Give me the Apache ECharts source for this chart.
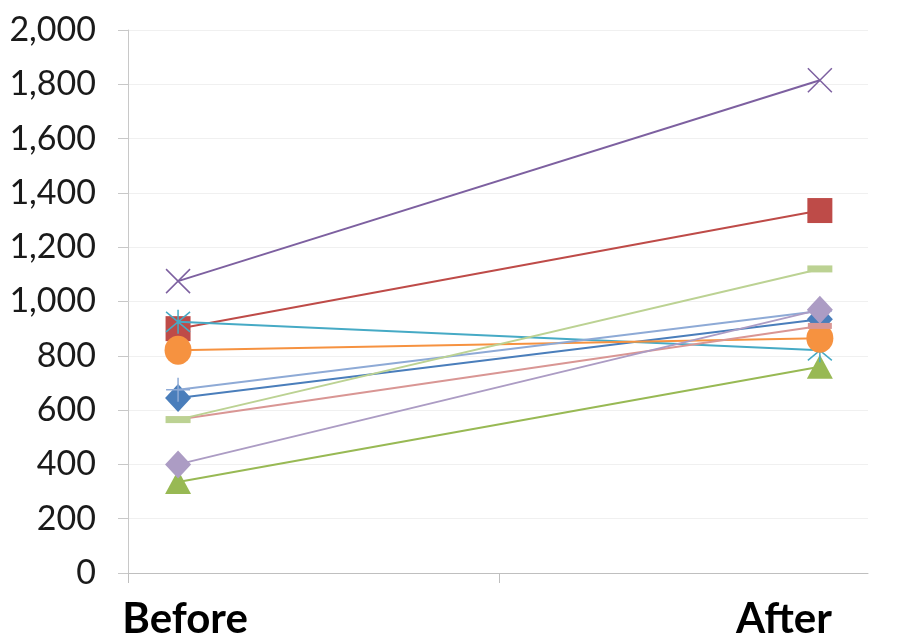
<!DOCTYPE html>
<html>
<head>
<meta charset="utf-8">
<script src="https://cdn.jsdelivr.net/npm/echarts@6/dist/echarts.min.js"></script>
<style>
  html, body { margin: 0; padding: 0; background: #ffffff; }
  #chart { width: 910px; height: 640px; }
</style>
</head>
<body>
<div id="chart"></div>
<script>
// Two time points, one line per subject
const categories = ['Before', 'After'];

const seriesNames = ['S1', 'S2', 'S3', 'S4', 'S5', 'S6', 'S7', 'S8', 'S9', 'S10'];
const beforeValues = [645, 900, 335, 1075, 925, 820, 675, 565, 565, 400];
const afterValues  = [935, 1335, 760, 1815, 820, 865, 965, 910, 1120, 970];

const yTicks = [0, 200, 400, 600, 800, 1000, 1200, 1400, 1600, 1800, 2000];

// Line / marker colours and marker shapes per series
const lineColors = ['#4A7EBB', '#BE4B48', '#98B954', '#7D60A0', '#46AAC5',
                    '#F69240', '#8EAAD6', '#D99694', '#BCD293', '#AC9CC4'];
const X_PATH = 'path://M0,0L10,10M10,0L0,10';
const STAR_PATH = 'path://M0,0L10,10M10,0L0,10M5,-1L5,11';
const PLUS_PATH = 'path://M5,0L5,10M0,5L10,5';
const markers = [
  { symbol: 'diamond', size: [26, 28], filled: true },
  { symbol: 'rect', size: [25, 25], filled: true },
  { symbol: 'triangle', size: [26, 24], filled: true },
  { symbol: X_PATH, size: [24, 24], filled: false },
  { symbol: STAR_PATH, size: [24, 24], filled: false },
  { symbol: 'circle', size: [27, 29], filled: true },
  { symbol: PLUS_PATH, size: [24, 24], filled: false },
  { symbol: 'rect', size: [24, 6], filled: true },
  { symbol: 'rect', size: [25, 7], filled: true },
  { symbol: 'diamond', size: [26, 28], filled: true }
];

// Points sit at x = 0 (Before) and x = 1 (After) on a value axis
const xMin = -0.078;
const xMax = 1.075;

const series = seriesNames.map(function (name, i) {
  const m = markers[i];
  const c = lineColors[i];
  return {
    name: name,
    type: 'line',
    z: 2 + i,
    data: categories.map(function (cat, k) {
      return [k, k === 0 ? beforeValues[i] : afterValues[i]];
    }),
    symbol: m.symbol,
    symbolSize: m.size,
    lineStyle: { color: c, width: 2 },
    itemStyle: m.filled
      ? { color: c, borderWidth: 0 }
      : { color: 'rgba(0,0,0,0)', borderColor: c, borderWidth: 1.5 },
    emphasis: { disabled: true }
  };
});

const chart = echarts.init(document.getElementById('chart'), null, { renderer: 'canvas' });
chart.setOption({
  animation: false,
  backgroundColor: '#ffffff',
  grid: { left: 128, right: 42, top: 30, bottom: 61, containLabel: false },
  xAxis: {
    type: 'value',
    min: xMin,
    max: xMax,
    axisLine: { show: true, onZero: false, lineStyle: { color: '#BFBFBF', width: 1 } },
    axisTick: {
      show: true,
      customValues: [xMin, 0.5],
      length: 10,
      lineStyle: { color: '#BFBFBF' }
    },
    splitLine: { show: false },
    axisLabel: {
      customValues: [0, 1],
      margin: 25,
      formatter: function (v) {
        const idx = Math.round(v);
        return '{c' + idx + '|' + categories[idx] + '}';
      },
      rich: {
        c0: { fontFamily: 'Lato', fontWeight: 'bold', fontSize: 42, color: '#000000', padding: [0, 0, 0, 14] },
        c1: { fontFamily: 'Lato', fontWeight: 'bold', fontSize: 42, color: '#000000', padding: [0, 72, 0, 0] }
      }
    }
  },
  yAxis: {
    type: 'value',
    min: yTicks[0],
    max: yTicks[yTicks.length - 1],
    interval: 200,
    axisLine: { show: true, onZero: false, lineStyle: { color: '#C8C8C8', width: 1 } },
    axisTick: { show: true, inside: false, length: 10, lineStyle: { color: '#C8C8C8' } },
    splitLine: { show: true, lineStyle: { color: '#F0F0F0', width: 1 } },
    axisLabel: {
      margin: 32,
      fontFamily: 'Lato',
      fontSize: 34,
      color: '#1A1A1A',
      formatter: function (v) { return v.toLocaleString('en-US'); }
    }
  },
  series: series
});
</script>
</body>
</html>
